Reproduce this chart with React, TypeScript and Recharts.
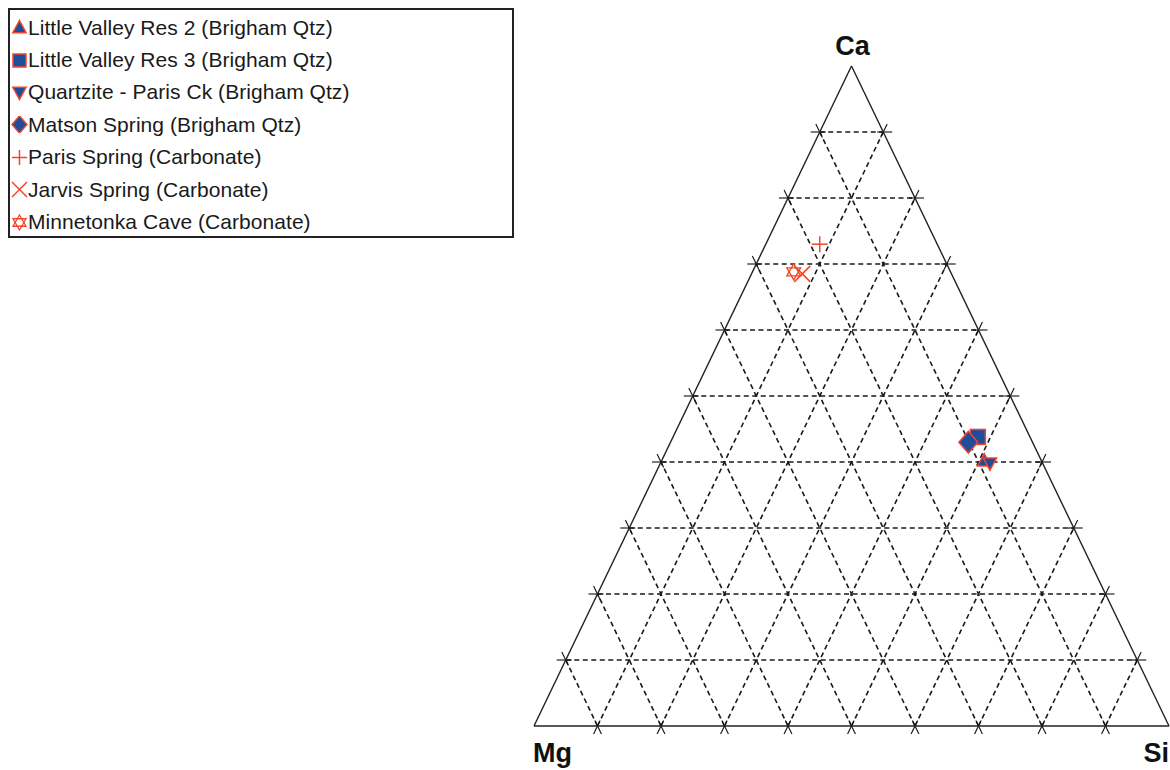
import React from 'react';
import { ScatterChart, Scatter, XAxis, YAxis, ReferenceLine, ReferenceDot, Legend } from 'recharts';

// ---------- data ----------
const seriesNames = [
  'Little Valley Res 2 (Brigham Qtz)',
  'Little Valley Res 3 (Brigham Qtz)',
  'Quartzite - Paris Ck (Brigham Qtz)',
  'Matson Spring (Brigham Qtz)',
  'Paris Spring (Carbonate)',
  'Jarvis Spring (Carbonate)',
  'Minnetonka Cave (Carbonate)',
];
const markerKinds = ['triangleUp', 'square', 'triangleDown', 'diamond', 'plus', 'cross', 'star'];
const caValues = [40.2, 43.8, 39.8, 43.0, 73.0, 68.5, 68.8];
const mgValues = [9.0, 8.2, 8.3, 10.1, 18.5, 23.5, 24.7];
const siValues = [50.8, 48.0, 51.9, 46.9, 8.5, 8.0, 6.5];
const gridFractions = [0.1, 0.2, 0.3, 0.4, 0.5, 0.6, 0.7, 0.8, 0.9];
const vertexLabels = { top: 'Ca', left: 'Mg', right: 'Si' };

// ---------- layout ----------
const W = 1170;
const H = 770;
const MARGIN = { top: 66, right: 1, bottom: 44, left: 534 };
const PW = W - MARGIN.left - MARGIN.right;
const PH = H - MARGIN.top - MARGIN.bottom;
const BLUE = '#1f4d9c';
const RED = '#f2462a';
const TICK_OUT = 9;
const TICK_IN = 6;

type P = { x: number; y: number };

const toXY = (ca: number, mg: number, si: number): P => {
  const t = ca + mg + si;
  return { x: (si + ca / 2) / t, y: ca / t };
};

// grid segments in data space
const gridLines: [P, P][] = [];
const ticks: [P, P][] = [];
const norm = (dxpx: number, dypx: number) => {
  const l = Math.hypot(dxpx, dypx);
  return { ux: dxpx / l, uy: dypx / l };
};
const addTick = (p: P, dxpx: number, dypx: number) => {
  const { ux, uy } = norm(dxpx, dypx);
  ticks.push([
    { x: p.x - (ux * TICK_IN) / PW, y: p.y - (uy * TICK_IN) / PH },
    { x: p.x + (ux * TICK_OUT) / PW, y: p.y + (uy * TICK_OUT) / PH },
  ]);
};
gridFractions.forEach((f) => {
  // Ca constant (horizontal)
  const l1 = { x: f / 2, y: f };
  const r1 = { x: 1 - f / 2, y: f };
  gridLines.push([l1, r1]);
  addTick(l1, -1, 0);
  addTick(r1, 1, 0);
  // Si constant (parallel to Mg-Ca edge)
  const b2 = { x: f, y: 0 };
  const t2 = { x: (1 + f) / 2, y: 1 - f };
  gridLines.push([b2, t2]);
  addTick(b2, -0.5 * PW, -PH);
  addTick(t2, 0.5 * PW, PH);
  // Mg constant (parallel to Si-Ca edge)
  const b3 = { x: 1 - f, y: 0 };
  const t3 = { x: (1 - f) / 2, y: 1 - f };
  gridLines.push([b3, t3]);
  addTick(b3, 0.5 * PW, -PH);
  addTick(t3, -0.5 * PW, PH);
});

const edges: [P, P][] = [
  [{ x: 0, y: 0 }, { x: 1, y: 0 }],
  [{ x: 0, y: 0 }, { x: 0.5, y: 1 }],
  [{ x: 1, y: 0 }, { x: 0.5, y: 1 }],
];

// ---------- markers ----------
const Marker = ({ kind, cx, cy, s }: { kind: string; cx: number; cy: number; s: number }) => {
  switch (kind) {
    case 'triangleUp':
      return (
        <polygon
          points={`${cx},${cy - s} ${cx + s * 0.95},${cy + s * 0.75} ${cx - s * 0.95},${cy + s * 0.75}`}
          fill={BLUE}
          stroke={RED}
          strokeWidth={1.5}
        />
      );
    case 'triangleDown':
      return (
        <polygon
          points={`${cx},${cy + s} ${cx + s * 0.95},${cy - s * 0.75} ${cx - s * 0.95},${cy - s * 0.75}`}
          fill={BLUE}
          stroke={RED}
          strokeWidth={1.5}
        />
      );
    case 'square':
      return <rect x={cx - s} y={cy - s} width={2 * s} height={2 * s} fill={BLUE} stroke={RED} strokeWidth={1.5} />;
    case 'diamond':
      return (
        <polygon
          points={`${cx},${cy - s * 1.15} ${cx + s},${cy} ${cx},${cy + s * 1.15} ${cx - s},${cy}`}
          fill={BLUE}
          stroke={RED}
          strokeWidth={1.5}
        />
      );
    case 'plus':
      return (
        <g stroke={RED} strokeWidth={1.5}>
          <line x1={cx - s} y1={cy} x2={cx + s} y2={cy} />
          <line x1={cx} y1={cy - s} x2={cx} y2={cy + s} />
        </g>
      );
    case 'cross':
      return (
        <g stroke={RED} strokeWidth={1.5}>
          <line x1={cx - s} y1={cy - s} x2={cx + s} y2={cy + s} />
          <line x1={cx - s} y1={cy + s} x2={cx + s} y2={cy - s} />
        </g>
      );
    case 'star':
      return (
        <g stroke={RED} strokeWidth={1.3} fill="none">
          <polygon points={`${cx},${cy - s} ${cx + s * 0.87},${cy + s * 0.5} ${cx - s * 0.87},${cy + s * 0.5}`} />
          <polygon points={`${cx},${cy + s} ${cx + s * 0.87},${cy - s * 0.5} ${cx - s * 0.87},${cy - s * 0.5}`} />
        </g>
      );
    default:
      return null;
  }
};

const plotSizes: Record<string, number> = {
  triangleUp: 7,
  triangleDown: 7,
  square: 7.5,
  diamond: 9.5,
  plus: 8,
  cross: 8,
  star: 8,
};
const legendSizes: Record<string, number> = {
  triangleUp: 7,
  triangleDown: 7,
  square: 6.5,
  diamond: 7.5,
  plus: 7.5,
  cross: 7.5,
  star: 7.5,
};

const renderLegend = () => (
  <div
    style={{
      width: 506,
      height: 230,
      border: '2px solid #222',
      boxSizing: 'border-box',
      background: '#fff',
      paddingTop: 1.5,
      fontFamily: '"Liberation Sans", Arial, sans-serif',
      fontSize: 21,
      color: '#1a1a1a',
    }}
  >
    {seriesNames.map((n, i) => (
      <div key={n} style={{ display: 'flex', alignItems: 'center', height: 32.4, paddingLeft: 1 }}>
        <svg width={17} height={17} style={{ flex: 'none' }}>
          <Marker kind={markerKinds[i]} cx={8.5} cy={8.5} s={legendSizes[markerKinds[i]]} />
        </svg>
        <span style={{ marginLeft: 0, whiteSpace: 'nowrap', letterSpacing: 0.05 }}>{n}</span>
      </div>
    ))}
  </div>
);

const labelStyle = { fontFamily: '"Liberation Sans", Arial, sans-serif', fontWeight: 700, fontSize: 27, fill: '#111' };

const App = () => {
  const seriesData = seriesNames.map((name, i) => [toXY(caValues[i], mgValues[i], siValues[i])]);
  return (
    <div style={{ position: 'absolute', left: 0, top: 0, width: W, height: H, background: '#fff' }}>
      <ScatterChart width={W} height={H} margin={MARGIN}>
        <XAxis type="number" dataKey="x" domain={[0, 1]} hide />
        <YAxis type="number" dataKey="y" domain={[0, 1]} hide />
        <Legend
          layout="horizontal"
          verticalAlign="middle"
          align="center"
          content={renderLegend}
          wrapperStyle={{ left: 8, top: 8, width: 506, height: 230 }}
        />
        {gridLines.map((seg, i) => (
          <ReferenceLine
            key={`g${i}`}
            segment={seg}
            stroke="#1a1a1a"
            strokeWidth={1.6}
            strokeDasharray="5 3.5"
            ifOverflow="visible"
          />
        ))}
        {ticks.map((seg, i) => (
          <ReferenceLine key={`t${i}`} segment={seg} stroke="#111" strokeWidth={1.1} ifOverflow="visible" />
        ))}
        {edges.map((seg, i) => (
          <ReferenceLine key={`e${i}`} segment={seg} stroke="#222" strokeWidth={1.4} ifOverflow="visible" />
        ))}
        <ReferenceDot
          x={0.5}
          y={1}
          r={0}
          ifOverflow="visible"
          label={{
            content: (p: any) => (
              <text x={p.viewBox.x + 1} y={p.viewBox.y - 11} textAnchor="middle" style={labelStyle}>
                {vertexLabels.top}
              </text>
            ),
          }}
        />
        <ReferenceDot
          x={0}
          y={0}
          r={0}
          ifOverflow="visible"
          label={{
            content: (p: any) => (
              <text x={p.viewBox.x - 1} y={p.viewBox.y + 36} textAnchor="start" style={labelStyle}>
                {vertexLabels.left}
              </text>
            ),
          }}
        />
        <ReferenceDot
          x={1}
          y={0}
          r={0}
          ifOverflow="visible"
          label={{
            content: (p: any) => (
              <text x={p.viewBox.x} y={p.viewBox.y + 36} textAnchor="end" style={labelStyle}>
                {vertexLabels.right}
              </text>
            ),
          }}
        />
        {seriesNames.map((name, i) => (
          <Scatter
            key={name}
            name={name}
            data={seriesData[i]}
            isAnimationActive={false}
            shape={(props: any) => (
              <Marker kind={markerKinds[i]} cx={props.cx} cy={props.cy} s={plotSizes[markerKinds[i]]} />
            )}
          />
        ))}
      </ScatterChart>
    </div>
  );
};

export default App;
